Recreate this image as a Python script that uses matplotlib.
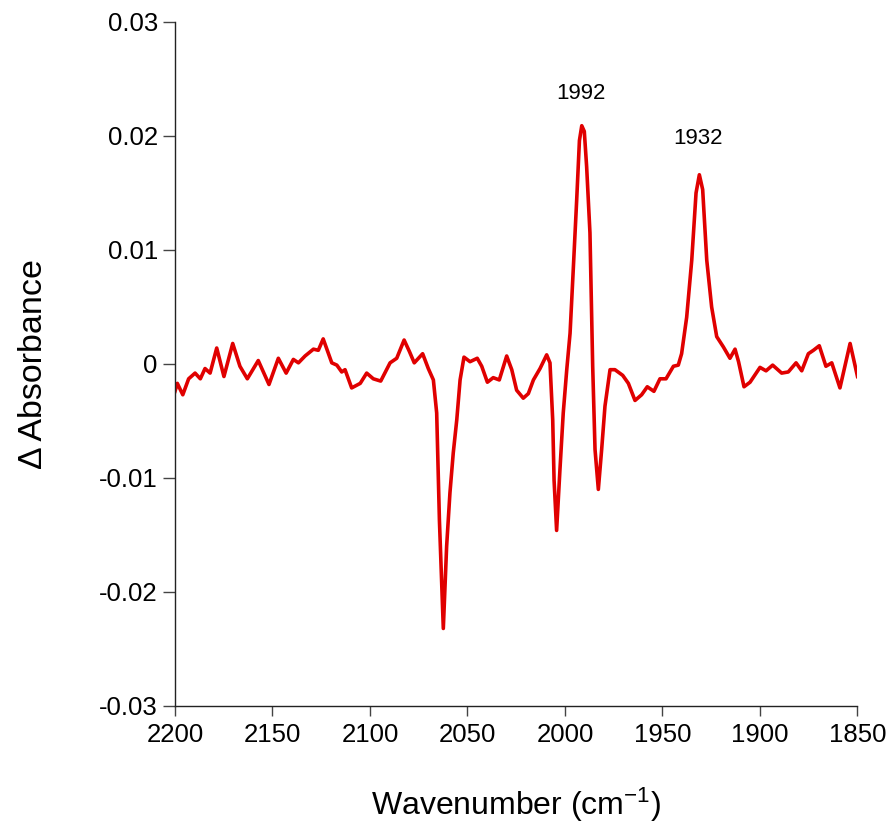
import matplotlib
matplotlib.use("Agg")
import matplotlib.pyplot as plt
from matplotlib.ticker import FuncFormatter

plt.rcParams['font.family'] = ['Liberation Sans', 'DejaVu Sans']
plt.rcParams['mathtext.fontset'] = 'custom'
plt.rcParams['mathtext.rm'] = 'Liberation Sans'
plt.rcParams['mathtext.it'] = 'Liberation Sans:italic'
plt.rcParams['mathtext.bf'] = 'Liberation Sans:bold'

wavenumber = [2200, 2198.8, 2196, 2193, 2189.7, 2187, 2184.6, 2182, 2178.6, 2174.9,
              2170.4, 2166.7, 2162.9, 2157.3, 2151.8, 2147, 2143, 2139.3, 2136.7, 2133.3,
              2129, 2126.5, 2124, 2119.6, 2117, 2114.5, 2112.8, 2109.4, 2105, 2101.7,
              2098.3, 2094.5, 2089.7, 2086.3, 2082.5, 2079.8, 2077.3, 2073, 2070.1, 2067.5,
              2065.8, 2064.4, 2062.4, 2060.7, 2059, 2057.3, 2055.5, 2053.8, 2051.8, 2048.7,
              2045, 2042.7, 2039.8, 2036.8, 2033.7, 2029.9, 2027.3, 2024.8, 2021.4, 2018.8,
              2016.2, 2012.8, 2009.4, 2007.7, 2006.3, 2005.6, 2004.3, 2002.6, 2000.9, 1999.1,
              1997.4, 1995.7, 1994, 1992.6, 1991.4, 1990.1, 1988.9, 1987.2, 1985.8, 1984.6,
              1982.9, 1981.2, 1979.5, 1976.9, 1974.4, 1970.4, 1967.5, 1964.1, 1960.7, 1957.8,
              1954.4, 1951.3, 1948.2, 1944.4, 1941.9, 1940.2, 1937.6, 1935, 1932.8, 1931.1,
              1929.4, 1927.3, 1924.8, 1922.2, 1918.8, 1915.4, 1912.8, 1911, 1908.2, 1905.1,
              1900, 1896.9, 1893.5, 1888.9, 1885.5, 1881.5, 1878.6, 1875.2, 1872.6, 1869.6,
              1866.2, 1863.2, 1859, 1853.8, 1850]
delta_abs = [-0.0024, -0.0017, -0.0027, -0.0013, -0.0008, -0.0013, -0.0004, -0.0008, 0.0014, -0.0011,
             0.0018, -0.0002, -0.0013, 0.0003, -0.0018, 0.0005, -0.0008, 0.0004, 0.0001, 0.0007,
             0.0013, 0.0012, 0.0022, 0.0001, -0.0001, -0.0007, -0.0005, -0.0021, -0.0017, -0.0008,
             -0.0013, -0.0015, 0.0001, 0.0005, 0.0021, 0.0011, 0.0001, 0.0009, -0.0004, -0.0014,
             -0.0043, -0.0137, -0.0232, -0.0160, -0.0113, -0.0078, -0.0049, -0.0014, 0.0006, 0.0002,
             0.0005, -0.0002, -0.0016, -0.0012, -0.0014, 0.0007, -0.0005, -0.0023, -0.0030, -0.0026,
             -0.0014, -0.0004, 0.0008, 0.0001, -0.0049, -0.0102, -0.0146, -0.0093, -0.0043, -0.0005,
             0.0027, 0.0085, 0.0144, 0.0196, 0.0209, 0.0204, 0.0173, 0.0115, -0.0002, -0.0075,
             -0.0110, -0.0075, -0.0037, -0.0005, -0.0005, -0.0010, -0.0017, -0.0032, -0.0027, -0.0020,
             -0.0024, -0.0013, -0.0013, -0.0002, -0.0001, 0.0009, 0.0041, 0.0091, 0.0150, 0.0166,
             0.0153, 0.0091, 0.0050, 0.0024, 0.0015, 0.0005, 0.0013, 0.0002, -0.0020, -0.0016,
             -0.0003, -0.0006, -0.0001, -0.0008, -0.0007, 0.0001, -0.0006, 0.0009, 0.0012, 0.0016,
             -0.0002, 0.0001, -0.0021, 0.0018, -0.0011]

peak_labels = ["1992", "1932"]
peak_x = [1992, 1932]
peak_y = [0.0232, 0.0193]

x_ticks = [2200, 2150, 2100, 2050, 2000, 1950, 1900, 1850]
y_ticks = [-0.03, -0.02, -0.01, 0, 0.01, 0.02, 0.03]

fig = plt.figure(figsize=(8.91, 8.26), dpi=100)
ax = fig.add_axes([0.1964, 0.1453, 0.766, 0.8281])
ax.plot(wavenumber, delta_abs, color='#e00000', lw=2.6, solid_joinstyle='round')
ax.set_xlim(2200, 1850)
ax.set_ylim(-0.03, 0.03)
ax.set_xticks(x_ticks)
ax.set_yticks(y_ticks)

def fmt(v, pos):
    if abs(v) < 1e-9:
        return "0"
    return ("%.2f" % v)
ax.yaxis.set_major_formatter(FuncFormatter(fmt))

for s in ['top', 'right']:
    ax.spines[s].set_visible(False)
for s in ['left', 'bottom']:
    ax.spines[s].set_linewidth(1.0)
    ax.spines[s].set_color('#222222')
ax.tick_params(axis='y', direction='out', length=8.4, width=1, labelsize=18.5, color='#444444', pad=4)
ax.tick_params(axis='x', direction='out', length=7, width=1, labelsize=18.5, color='#444444', pad=5)

for lab, xx, yy in zip(peak_labels, peak_x, peak_y):
    ax.text(xx, yy, lab, ha='center', va='baseline', fontsize=16)

ax.set_xlabel("Wavenumber (cm$^{\\mathrm{-1}}$)", fontsize=23)
ax.set_ylabel("Δ Absorbance", fontsize=24.5)
ax.xaxis.set_label_coords(0.5, -0.117)
ax.yaxis.set_label_coords(-0.185, 0.5)

fig.savefig("out.png", dpi=100)
